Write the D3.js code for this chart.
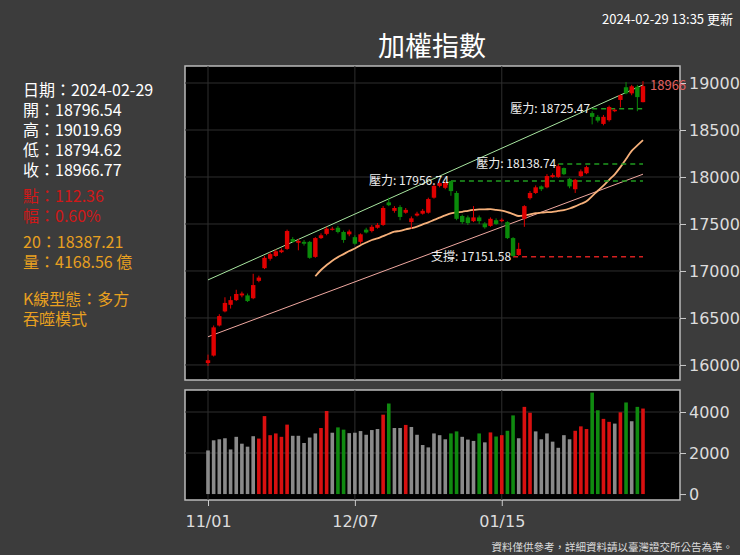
<!DOCTYPE html>
<html><head><meta charset="utf-8">
<script src="https://cdn.jsdelivr.net/npm/d3@7/dist/d3.min.js"></script>
<style>body{margin:0;background:#3c3c3c;}svg{display:block;font-family:"Noto Sans CJK TC","Noto Sans",sans-serif;}</style>
</head><body><svg id="c" width="740" height="555"></svg>
<script>
const opens  = [16020,16100,16420,16570,16640,16690,16740,16740,16710,16895,17030,17130,17160,17200,17235,17340,17300,17310,17310,17150,17350,17395,17440,17460,17415,17390,17360,17310,17440,17425,17460,17490,17730,17640,17680,17620,17520,17590,17610,17620,17780,17905,17885,17957,17830,17585,17570,17530,17570,17505,17480,17540,17530,17520,17350,17170,17555,17775,17830,17900,17890,18000,18000,18095,17980,17870,18010,18040,18680,18640,18565,18605,18700,18820,18955,18890,18960,18796.54];
const closes = [16050,16400,16520,16660,16690,16755,16760,16680,16850,16930,17140,17180,17210,17220,17425,17310,17320,17290,17140,17350,17380,17450,17450,17415,17330,17420,17290,17390,17410,17470,17490,17670,17700,17670,17575,17650,17560,17610,17640,17765,17905,17935,17935,17850,17555,17520,17510,17570,17530,17465,17555,17500,17545,17350,17160,17235,17690,17830,17890,17870,18010,18020,18115,18030,17900,17970,18060,18105,18640,18600,18640,18745,18715,18870,18890,18965,18850,18966.77];
const highs  = [16110,16420,16540,16720,16730,16800,16780,16760,16970,16950,17160,17200,17230,17240,17440,17360,17340,17330,17320,17360,17400,17470,17470,17480,17430,17440,17380,17400,17460,17490,17510,17690,17780,17690,17700,17670,17580,17630,17660,17780,17920,17950,17950,17956.74,17850,17600,17590,17690,17590,17520,17570,17560,17560,17530,17360,17300,17700,17850,17910,17910,18030,18040,18138.74,18100,17990,17980,18080,18120,18700,18660,18660,18760,18725.47,18880,19010,18980,18980,19019.69];
const lows   = [15990,16090,16410,16560,16600,16680,16720,16670,16700,16880,17020,17110,17150,17190,17225,17300,17220,17270,17130,17140,17340,17380,17430,17400,17300,17370,17280,17290,17400,17410,17450,17480,17690,17620,17540,17610,17450,17580,17600,17610,17770,17890,17870,17800,17540,17500,17490,17520,17500,17450,17470,17490,17520,17340,17151.58,17160,17470,17760,17820,17850,17880,17990,17990,18020,17880,17830,18000,18030,18560,18580,18550,18590,18690,18740,18880,18870,18700,18794.62];
const volumes= [2125,2620,2670,2720,2175,2790,2455,2310,2820,2705,3800,2870,2955,2790,3385,2840,2840,2490,2755,2955,3220,4050,2990,3250,3140,2970,2990,3070,2890,3120,3170,3870,4415,3220,3220,3370,3270,2890,2390,2275,2955,2870,2670,2955,3055,2790,2655,2590,2955,2520,3005,2805,2870,3085,3835,2720,4250,3965,3055,2670,2955,2555,2255,2870,2670,3085,3300,3170,4945,4085,3665,3520,3435,3985,4465,3550,4250,4168.56];
const volColors = "GGGGGGGGGRRRRRRGGGGGRRGNNGGGGGGRNGGRGGGGGGGNNGGGNGRNRNNGRRGGGGGGGRRRNNRRGRNGNR";
const xLabels = [{i:0,t:"11/01"},{i:26,t:"12/07"},{i:52,t:"01/15"}];
const priceTicks = [16000,16500,17000,17500,18000,18500,19000];
const volTicks = [0,2000,4000];
const upperTrend = [{i:0,v:16905},{i:77,v:18980}];
const lowerTrend = [{i:0,v:16300},{i:77,v:18030}];
const levels = [
 {i:43,v:17956.74,label:"壓力: 17956.74",c:"#1f9a1f"},
 {i:62,v:18138.74,label:"壓力: 18138.74",c:"#1f9a1f"},
 {i:68,v:18725.47,label:"壓力: 18725.47",c:"#1f9a1f"},
 {i:54,v:17151.58,label:"支撐: 17151.58",c:"#d62020"}];
const infoLines = [
 {t:"日期：2024-02-29",c:"#ffffff",y:96},{t:"開：18796.54",c:"#ffffff",y:116},{t:"高：19019.69",c:"#ffffff",y:136},
 {t:"低：18794.62",c:"#ffffff",y:156},{t:"收：18966.77",c:"#ffffff",y:176},
 {t:"點：112.36",c:"#d01818",y:202},{t:"幅：0.60%",c:"#d01818",y:222},
 {t:"20：18387.21",c:"#e8a020",y:248},{t:"量：4168.56 億",c:"#e8a020",y:268},
 {t:"K線型態：多方",c:"#e8a020",y:305},{t:"吞噬模式",c:"#e8a020",y:325}];

const svg=d3.select("#c");
const L=185,R=680,T1=66,B1=380,T2=390,B2=500;
const x=d3.scaleLinear().domain([0,77]).range([208,643]);
const y=d3.scaleLinear().domain([15840,19181]).range([B1,T1]);
const yv=d3.scaleLinear().domain([-290,5073]).range([B2,T2]);
const RED="#e00000",GRN="#0a8a0a";

svg.append("rect").attr("width",740).attr("height",555).attr("fill","#3c3c3c");
[[T1,B1],[T2,B2]].forEach(([t,b])=>svg.append("rect").attr("x",L).attr("y",t).attr("width",R-L).attr("height",b-t).attr("fill","#000").attr("stroke","#bbb").attr("stroke-width",1.5));
const g1=svg.append("g");
priceTicks.forEach(v=>g1.append("line").attr("x1",L).attr("x2",R).attr("y1",y(v)).attr("y2",y(v)).attr("stroke","#2e2e2e"));
volTicks.slice(1).forEach(v=>g1.append("line").attr("x1",L).attr("x2",R).attr("y1",yv(v)).attr("y2",yv(v)).attr("stroke","#2e2e2e"));
xLabels.forEach(d=>{[[T1,B1],[T2,B2]].forEach(([t,b])=>g1.append("line").attr("x1",x(d.i)).attr("x2",x(d.i)).attr("y1",t).attr("y2",b).attr("stroke","#2e2e2e"));});
const ay=svg.append("g").attr("transform",`translate(${R},0)`).call(d3.axisRight(y).tickValues(priceTicks).tickSize(6).tickFormat(d3.format("d")));
const av=svg.append("g").attr("transform",`translate(${R},0)`).call(d3.axisRight(yv).tickValues(volTicks).tickSize(6).tickFormat(d3.format("d")));
const ax=svg.append("g").attr("transform",`translate(0,${B2})`).call(d3.axisBottom(x).tickValues(xLabels.map(d=>d.i)).tickSize(6).tickFormat(i=>xLabels.find(d=>d.i===i).t));
[ay,av,ax].forEach(a=>{a.select(".domain").remove();a.selectAll("line").attr("stroke","#ccc");a.selectAll("text").attr("fill","#ddd").style("font-size","16px").style("font-family","'DejaVu Sans',sans-serif");});
ax.selectAll("text").attr("dy","1.1em");
const line=d3.line().x(d=>x(d.i)).y(d=>y(d.v));
svg.append("path").datum(upperTrend).attr("d",line).attr("stroke","#a8e6a0").attr("fill","none");
svg.append("path").datum(lowerTrend).attr("d",line).attr("stroke","#f0a8a0").attr("fill","none");
const ma=[];for(let i=19;i<closes.length;i++){ma.push({i,v:d3.mean(closes.slice(i-19,i+1))});}
svg.append("path").datum(ma).attr("d",d3.line().x(d=>x(d.i)).y(d=>y(d.v)).curve(d3.curveMonotoneX)).attr("stroke","#f6b07a").attr("stroke-width",1.8).attr("fill","none");
levels.forEach(d=>{
 svg.append("line").attr("x1",x(d.i)).attr("x2",x(77)).attr("y1",y(d.v)).attr("y2",y(d.v)).attr("stroke",d.c).attr("stroke-width",1.5).attr("stroke-dasharray","5,4");
 svg.append("text").attr("x",x(d.i)-2).attr("y",y(d.v)+4).attr("text-anchor","end").attr("fill","#eee").style("font-size","12px").text(d.label);
});
const cg=svg.append("g");
closes.forEach((c,i)=>{const o=opens[i];const col=c>=o?RED:GRN;
 cg.append("line").attr("x1",x(i)).attr("x2",x(i)).attr("y1",y(highs[i])).attr("y2",y(lows[i])).attr("stroke",col);
 const t=y(Math.max(o,c)),b=y(Math.min(o,c));
 cg.append("rect").attr("x",x(i)-2.2).attr("width",4.4).attr("y",t).attr("height",Math.max(1.2,b-t)).attr("fill",col);
});
const cm={G:"#8a8a8a",R:"#d81010",N:"#108a10"};
volumes.forEach((v,i)=>svg.append("rect").attr("x",x(i)-1.8).attr("width",3.6).attr("y",yv(v)).attr("height",yv(0)-yv(v)).attr("fill",cm[volColors[i]]));
svg.append("text").attr("x",650).attr("y",y(closes[77])+4).attr("fill","#e06060").style("font-size","13px").text(Math.round(closes[77]-0.77));
svg.append("text").attr("x",432).attr("y",56).attr("text-anchor","middle").attr("fill","#fff").style("font-size","27px").text("加權指數");
svg.append("text").attr("x",733).attr("y",24).attr("text-anchor","end").attr("fill","#fff").style("font-size","13px").text("2024-02-29 13:35 更新");
svg.append("text").attr("x",733).attr("y",551).attr("text-anchor","end").attr("fill","#ddd").style("font-size","10.5px").text("資料僅供參考，詳細資料請以臺灣證交所公告為準。");
infoLines.forEach(d=>svg.append("text").attr("x",23).attr("y",d.y).attr("fill",d.c).style("font-size","16px").text(d.t));
</script></body></html>
